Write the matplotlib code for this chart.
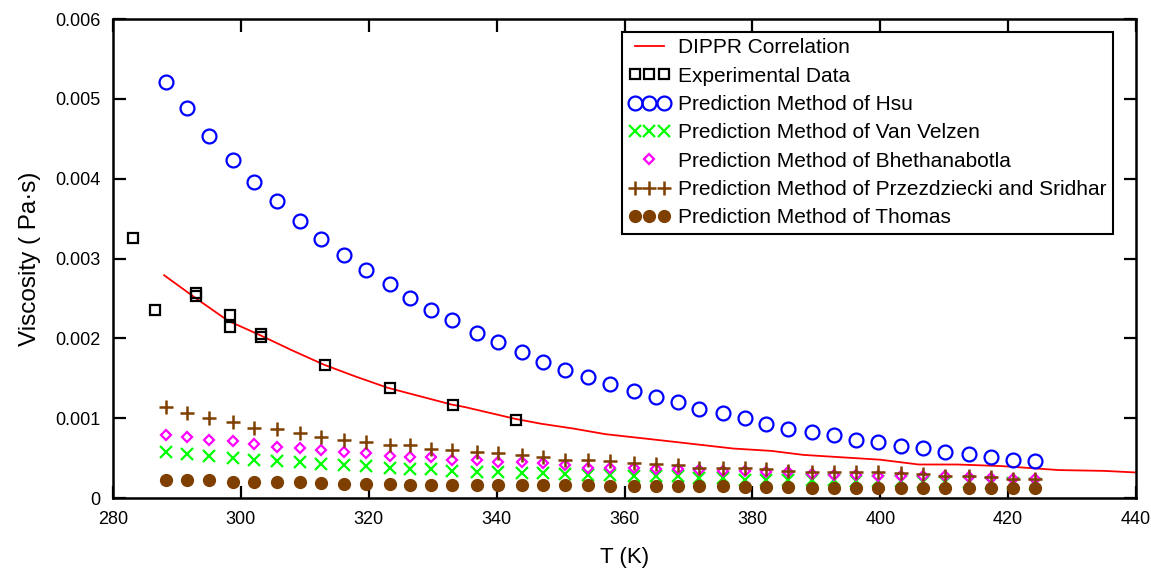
import matplotlib
matplotlib.use("Agg")
import matplotlib.pyplot as plt
from matplotlib.legend_handler import HandlerLine2D

plt.rcParams['font.family'] = ['Liberation Sans', 'DejaVu Sans']

# temperature grid used by all prediction methods (K)
T_pred = [288.3, 291.5, 295.0, 298.7, 302.0, 305.6, 309.2, 312.6, 316.2, 319.6,
          323.3, 326.4, 329.8, 333.0, 336.9, 340.2, 343.9, 347.3, 350.7, 354.3,
          357.8, 361.5, 364.9, 368.3, 371.7, 375.4, 378.8, 382.1, 385.5, 389.3,
          392.7, 396.2, 399.7, 403.3, 406.7, 410.1, 413.9, 417.3, 420.7, 424.2]

# DIPPR correlation
T_dippr = [288, 293, 298, 303, 308, 313, 318, 323, 333, 335, 343, 347, 352, 357,
           366, 377, 383, 388, 400, 406, 412, 419, 428, 435, 440]
mu_dippr = [0.00279, 0.00250, 0.00222, 0.00204, 0.00185, 0.00167, 0.00152, 0.00138,
            0.00117, 0.00114, 0.00099, 0.00093, 0.00087, 0.00080, 0.00072, 0.00062,
            0.00059, 0.00054, 0.00048, 0.00042, 0.00042, 0.00040, 0.00035, 0.00034,
            0.00032]

# experimental data
T_exp = [283.1, 286.6, 293.0, 293.0, 298.3, 298.3, 303.2, 303.2, 313.2, 323.3, 333.2, 343.0]
mu_exp = [0.00326, 0.00235, 0.00257, 0.00253, 0.00229, 0.00214, 0.00206, 0.00202,
          0.00166, 0.00138, 0.00117, 0.00098]

mu_hsu = [0.00521, 0.00488, 0.00454, 0.00424, 0.00396, 0.00372, 0.00347, 0.00325,
          0.00304, 0.00285, 0.00268, 0.00250, 0.00236, 0.00223, 0.00207, 0.00195,
          0.00183, 0.00171, 0.00160, 0.00152, 0.00143, 0.00134, 0.00127, 0.00120,
          0.00112, 0.00106, 0.00100, 0.00093, 0.00087, 0.00083, 0.00079, 0.00073,
          0.00070, 0.00065, 0.00063, 0.00058, 0.00055, 0.00052, 0.00048, 0.00047]

mu_velzen = [0.00058, 0.00055, 0.00053, 0.00050, 0.00048, 0.00047, 0.00045, 0.00043,
             0.00041, 0.00040, 0.00038, 0.00036, 0.00036, 0.00034, 0.00033, 0.00032,
             0.00031, 0.00031, 0.00030, 0.00029, 0.00029, 0.00028, 0.00027, 0.00027,
             0.00025, 0.00025, 0.00023, 0.00023, 0.00023, 0.00022, 0.00022, 0.00021,
             0.00021, 0.00021, 0.00020, 0.00020, 0.00020, 0.00019, 0.00019, 0.00018]

mu_bheth = [0.00079, 0.00076, 0.00073, 0.00071, 0.00068, 0.00064, 0.00063, 0.00060,
            0.00058, 0.00056, 0.00053, 0.00052, 0.00051, 0.00048, 0.00048, 0.00045,
            0.00045, 0.00044, 0.00041, 0.00038, 0.00038, 0.00038, 0.00036, 0.00036,
            0.00035, 0.00034, 0.00034, 0.00033, 0.00032, 0.00030, 0.00029, 0.00029,
            0.00028, 0.00028, 0.00027, 0.00027, 0.00026, 0.00025, 0.00024, 0.00024]

mu_przez = [0.00114, 0.00107, 0.00100, 0.00095, 0.00088, 0.00086, 0.00081, 0.00077,
            0.00073, 0.00070, 0.00067, 0.00066, 0.00062, 0.00060, 0.00058, 0.00057,
            0.00054, 0.00051, 0.00048, 0.00048, 0.00047, 0.00044, 0.00042, 0.00041,
            0.00038, 0.00038, 0.00037, 0.00036, 0.00034, 0.00033, 0.00033, 0.00032,
            0.00032, 0.00031, 0.00030, 0.00028, 0.00027, 0.00026, 0.00024, 0.00024]

mu_thomas = [0.00023, 0.00022, 0.00022, 0.00020, 0.00020, 0.00020, 0.00020, 0.00019,
             0.00017, 0.00017, 0.00017, 0.00016, 0.00016, 0.00016, 0.00016, 0.00016,
             0.00016, 0.00016, 0.00016, 0.00016, 0.00015, 0.00015, 0.00015, 0.00015,
             0.00015, 0.00015, 0.00014, 0.00014, 0.00014, 0.00013, 0.00013, 0.00013,
             0.00013, 0.00013, 0.00013, 0.00013, 0.00013, 0.00013, 0.00012, 0.00012]

x_ticks = [280, 300, 320, 340, 360, 380, 400, 420, 440]
y_ticks = [0, 0.001, 0.002, 0.003, 0.004, 0.005, 0.006]
y_tick_labels = ['0', '0.001', '0.002', '0.003', '0.004', '0.005', '0.006']

brown = '#7f3f00'

fig = plt.figure(figsize=(11.51, 5.71), dpi=100)
ax = fig.add_axes([0.0982, 0.1278, 0.8888, 0.8389])

ax.plot(T_dippr, mu_dippr, color='#ff0000', lw=1.3, label='DIPPR Correlation')
ax.plot(T_exp, mu_exp, ls='none', marker='s', ms=7, mfc='none', mec='black', mew=1.6,
        label='Experimental Data')
ax.plot(T_pred, mu_hsu, ls='none', marker='o', ms=10, mfc='none', mec='#0000ff', mew=1.6,
        label='Prediction Method of Hsu')
ax.plot(T_pred, mu_velzen, ls='none', marker='x', ms=8.5, mec='#00ff00', mew=1.6,
        label='Prediction Method of Van Velzen')
diam, = ax.plot(T_pred, mu_bheth, ls='none', marker='D', ms=5.5, mfc='none', mec='#ff00ff',
                mew=1.6, label='Prediction Method of Bhethanabotla')
ax.plot(T_pred, mu_przez, ls='none', marker='+', ms=10, mec=brown, mew=1.8,
        label='Prediction Method of Przezdziecki and Sridhar')
ax.plot(T_pred, mu_thomas, ls='none', marker='o', ms=8.5, mfc=brown, mec=brown,
        label='Prediction Method of Thomas')

ax.set_xlim(280, 440)
ax.set_ylim(0, 0.006)
ax.set_xticks(x_ticks)
ax.set_yticks(y_ticks)
ax.set_yticklabels(y_tick_labels)
ax.tick_params(direction='in', length=9, width=1.6, top=True, right=True,
               labelsize=13, pad=9)
for s in ax.spines.values():
    s.set_linewidth(1.8)

ax.set_xlabel('T (K)', fontsize=16, labelpad=14)
ax.set_ylabel('Viscosity ( Pa·s)', fontsize=17.5, labelpad=10)

leg = ax.legend(loc='upper right', bbox_to_anchor=(0.967, 0.944),
                bbox_transform=fig.transFigure, borderaxespad=0,
                numpoints=3, fontsize=15, frameon=True, fancybox=False,
                edgecolor='black', framealpha=1, borderpad=0.3,
                labelspacing=0.45, handlelength=2.0, handletextpad=0.4,
                handler_map={diam: HandlerLine2D(numpoints=1)})
leg.get_frame().set_linewidth(1.5)

fig.savefig('out.png', dpi=100)
